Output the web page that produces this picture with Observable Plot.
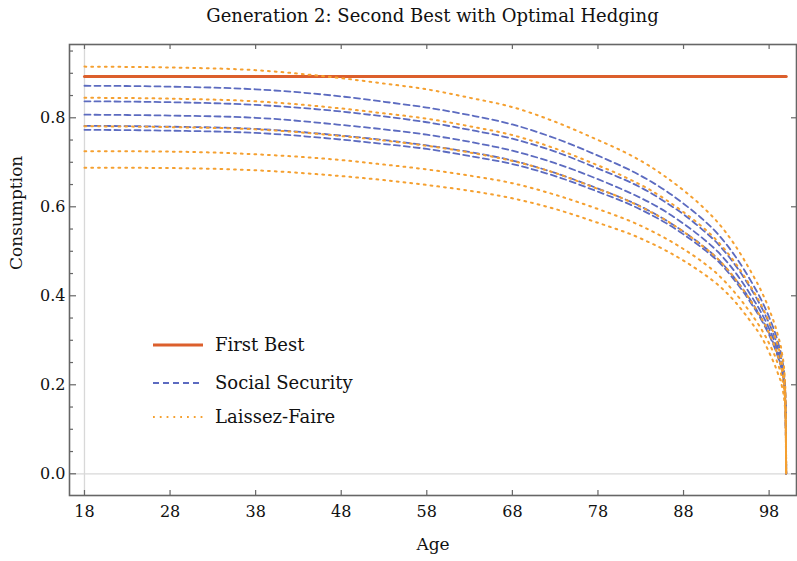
<!DOCTYPE html>
<html><head><meta charset="utf-8">
<script src="https://cdn.jsdelivr.net/npm/d3@7"></script>
<script src="https://cdn.jsdelivr.net/npm/@observablehq/plot@0.6"></script>
<style>
body{margin:0;background:#fff;}
#wrap{position:relative;width:797px;height:561px;font-family:"DejaVu Serif",serif;color:#111;}
#title{position:absolute;left:69px;width:727px;top:4px;text-align:center;font-size:18px;line-height:24px;}
.leg{position:absolute;left:153px;height:24px;line-height:24px;font-size:18px;display:flex;align-items:center;}
.leg svg{width:50px;height:10px;margin-right:12px;}
</style></head>
<body><div id="wrap">
<div id="title">Generation 2: Second Best with Optimal Hedging</div>
<div id="chart"></div>
<div class="leg" style="top:333px"><svg><line x1="0" x2="50" y1="5" y2="5" stroke="#dc5f2c" stroke-width="3"/></svg>First Best</div>
<div class="leg" style="top:371px"><svg><line x1="0" x2="50" y1="5" y2="5" stroke="#5c6bc0" stroke-width="1.8" stroke-dasharray="6,4"/></svg>Social Security</div>
<div class="leg" style="top:405px"><svg><line x1="0" x2="50" y1="5" y2="5" stroke="#f5a030" stroke-width="2" stroke-dasharray="1.8,5"/></svg>Laissez-Faire</div>
</div>
<script>
const ages = [18, 28, 38, 48, 53, 58, 63, 68, 73, 78, 80, 82, 84, 86, 88, 90, 92, 94, 96, 97, 98, 99, 99.5, 99.8, 99.9, 100];
const firstBest = 0.893;
const ss1 = [0.872,0.870,0.864,0.848,0.836,0.823,0.806,0.785,0.754,0.715,0.698,0.680,0.659,0.635,0.607,0.576,0.539,0.490,0.429,0.394,0.352,0.298,0.259,0.214,0.179,0];
const ss2 = [0.837,0.835,0.829,0.814,0.803,0.790,0.773,0.753,0.724,0.686,0.670,0.653,0.633,0.609,0.583,0.552,0.517,0.470,0.412,0.378,0.338,0.286,0.249,0.205,0.172,0];
const ss3 = [0.807,0.805,0.800,0.784,0.774,0.762,0.746,0.726,0.698,0.662,0.646,0.629,0.610,0.588,0.562,0.533,0.499,0.454,0.397,0.365,0.326,0.276,0.240,0.198,0.165,0];
const ss4 = [0.782,0.780,0.775,0.760,0.750,0.738,0.723,0.704,0.676,0.641,0.626,0.610,0.591,0.569,0.544,0.516,0.483,0.439,0.385,0.353,0.316,0.267,0.232,0.192,0.160,0];
const ss5 = [0.773,0.771,0.766,0.751,0.741,0.730,0.714,0.696,0.669,0.634,0.619,0.603,0.584,0.563,0.538,0.510,0.478,0.434,0.380,0.349,0.312,0.264,0.230,0.189,0.158,0];
const lf1 = [0.915,0.913,0.907,0.889,0.877,0.864,0.845,0.824,0.791,0.750,0.733,0.714,0.692,0.666,0.637,0.604,0.565,0.514,0.450,0.414,0.370,0.313,0.272,0.224,0.188,0];
const lf2 = [0.845,0.843,0.837,0.821,0.810,0.798,0.781,0.761,0.731,0.693,0.677,0.659,0.639,0.615,0.588,0.558,0.522,0.475,0.416,0.382,0.341,0.289,0.251,0.207,0.173,0];
const lf3 = [0.781,0.779,0.774,0.759,0.749,0.737,0.722,0.703,0.676,0.640,0.626,0.609,0.590,0.569,0.544,0.515,0.483,0.439,0.384,0.353,0.316,0.267,0.232,0.191,0.160,0];
const lf4 = [0.725,0.724,0.718,0.705,0.695,0.684,0.670,0.653,0.627,0.595,0.581,0.566,0.548,0.528,0.505,0.479,0.448,0.407,0.357,0.328,0.293,0.248,0.215,0.178,0.149,0];
const lf5 = [0.688,0.687,0.682,0.669,0.660,0.649,0.636,0.619,0.595,0.564,0.551,0.537,0.520,0.501,0.479,0.454,0.425,0.387,0.338,0.311,0.273,0.227,0.196,0.160,0.135,0];
const xTicks = [18, 28, 38, 48, 58, 68, 78, 88, 98];
const yTicks = [0, 0.2, 0.4, 0.6, 0.8];
const yMinor = [0.05,0.1,0.15,0.25,0.3,0.35,0.45,0.5,0.55,0.65,0.7,0.75,0.85,0.9,0.95];

const toRows = (arrs) => arrs.flatMap((arr, k) => ages.map((a, i) => ({age: a, c: arr[i], id: k})));
const ssRows = toRows([ss1, ss2, ss3, ss4, ss5]);
const lfRows = toRows([lf1, lf2, lf3, lf4, lf5]);
const fbRows = [{age: ages[0], c: firstBest}, {age: ages[ages.length - 1], c: firstBest}];

const W = 797, H = 561, mL = 69, mR = 1, mT = 44, mB = 66;
const pw = W - mL - mR, ph = H - mT - mB;
const tk = {stroke: "#666", strokeWidth: 1.2};

const chart = Plot.plot({
  width: W, height: H, marginLeft: mL, marginRight: mR, marginTop: mT, marginBottom: mB,
  x: {domain: [16.25, 101.2]},
  y: {domain: [-0.0488, 0.9647]},
  style: {fontFamily: "DejaVu Serif, serif", fontSize: "16px", color: "#111", background: "#fff"},
  marks: [
    Plot.ruleX([18], {stroke: "#d8d8d8", strokeWidth: 1.3}),
    Plot.ruleY([0], {stroke: "#d8d8d8", strokeWidth: 1.3}),
    Plot.line(fbRows, {x: "age", y: "c", stroke: "#dc5f2c", strokeWidth: 3}),
    Plot.line(ssRows, {x: "age", y: "c", z: "id", stroke: "#5c6bc0", strokeWidth: 1.8, strokeDasharray: "6,4", curve: "monotone-x"}),
    Plot.line(lfRows, {x: "age", y: "c", z: "id", stroke: "#f5a030", strokeWidth: 2, strokeDasharray: "1.8,5", curve: "monotone-x"}),
    Plot.frame({stroke: "#666", strokeWidth: 1.6}),
    Plot.tickX(xTicks, {x: d => d, insetTop: ph - 5, ...tk}),
    Plot.tickX(xTicks, {x: d => d, insetBottom: ph - 5, ...tk}),
    Plot.tickY(yTicks, {y: d => d, insetRight: pw - 7, ...tk}),
    Plot.tickY(yMinor, {y: d => d, insetRight: pw - 4, ...tk}),
    Plot.tickY(yTicks, {y: d => d, insetLeft: pw - 5, ...tk}),
    Plot.axisX({ticks: xTicks, tickSize: 0, tickPadding: 10, label: null}),
    Plot.axisY({ticks: yTicks, tickSize: 0, tickPadding: 4, tickFormat: d3.format(".1f"), label: null}),
    Plot.text(["Age"], {frameAnchor: "bottom", dy: 54, fontSize: 17}),
    Plot.text(["Consumption"], {frameAnchor: "left", dx: -53, rotate: -90, fontSize: 17})
  ]
});
document.getElementById("chart").appendChild(chart);
</script>
</body></html>
